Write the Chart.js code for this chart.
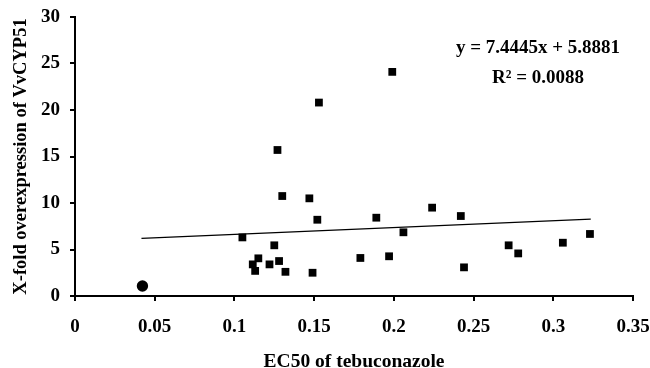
<!DOCTYPE html>
<html>
<head>
<meta charset="utf-8">
<script src="https://cdn.jsdelivr.net/npm/chart.js@4"></script>
<style>
  html, body { margin: 0; padding: 0; background: #fff; }
  #chart { display: block; }
</style>
</head>
<body>
<canvas id="chart" width="650" height="368"></canvas>
<script>
// isolates (squares)
const ec50 = [0.153, 0.127, 0.130, 0.147, 0.199, 0.152, 0.105, 0.125, 0.115, 0.1115,
              0.113, 0.122, 0.128, 0.132, 0.149, 0.179, 0.189, 0.197, 0.206, 0.224,
              0.242, 0.244, 0.272, 0.278, 0.306, 0.323];
const foldExpr = [20.8, 15.7, 10.75, 10.5, 24.1, 8.2, 6.3, 5.45, 4.05, 3.4,
                  2.7, 3.4, 3.76, 2.6, 2.5, 4.09, 8.42, 4.27, 6.85, 9.5,
                  8.6, 3.08, 5.45, 4.58, 5.73, 6.67];
// reference (circle)
const refEc50 = [0.0423];
const refExpr = [1.07];
// trend line ends
const trendX = [0.0417, 0.3235];
const trendY = [6.2, 8.27];
const eqLines = ['y = 7.4445x + 5.8881', 'R\u00b2 = 0.0088'];

const font = 'Liberation Serif, Times New Roman, serif';

const eqPlugin = {
    id: 'eq',
    afterDraw(chart) {
        const ctx = chart.ctx;
        ctx.save();
        ctx.fillStyle = '#000';
        ctx.font = 'bold 19px ' + font;
        ctx.textAlign = 'center';
        ctx.textBaseline = 'middle';
        ctx.fillText(eqLines[0], 538, 48);
        ctx.fillText(eqLines[1], 538, 78);
        ctx.restore();
    }
};

new Chart(document.getElementById('chart'), {
    type: 'scatter',
    data: {
        datasets: [
            {
                data: trendX.map((x, i) => ({ x: x, y: trendY[i] })),
                type: 'line',
                borderColor: '#000',
                borderWidth: 1.3,
                pointRadius: 0,
                fill: false
            },
            {
                data: ec50.map((x, i) => ({ x: x, y: foldExpr[i] })),
                pointStyle: 'rect',
                pointRadius: 5.5,
                backgroundColor: '#000',
                borderColor: '#000',
                borderWidth: 0
            },
            {
                data: refEc50.map((x, i) => ({ x: x, y: refExpr[i] })),
                pointStyle: 'circle',
                pointRadius: 5.7,
                backgroundColor: '#000',
                borderColor: '#000',
                borderWidth: 0
            }
        ]
    },
    options: {
        responsive: false,
        animation: false,
        layout: { padding: { top: 17, right: 17, left: 0, bottom: 0 } },
        plugins: { legend: { display: false }, tooltip: { enabled: false } },
        scales: {
            x: {
                type: 'linear',
                min: 0, max: 0.35,
                border: { display: true, color: '#000', width: 2 },
                grid: { drawOnChartArea: false, drawTicks: true, tickLength: 5, color: '#000', lineWidth: 2 },
                ticks: {
                    stepSize: 0.05, color: '#000', padding: 15,
                    font: { family: font, size: 19, weight: 'bold' },
                    callback: v => String(+v.toFixed(2))
                },
                title: { display: true, text: 'EC50 of tebuconazole', color: '#000', font: { family: font, size: 19.5, weight: 'bold', lineHeight: 0.6 }, padding: { top: 0, bottom: 0 } },
                afterFit(scale) {
                    scale.height = 72;
                    scale.paddingLeft = 0;
                    scale.paddingRight = 0;
                }
            },
            y: {
                min: 0, max: 30,
                border: { display: true, color: '#000', width: 2 },
                grid: { drawOnChartArea: false, drawTicks: true, tickLength: 5, color: '#000', lineWidth: 2 },
                ticks: { stepSize: 5, color: '#000', font: { family: font, size: 19, weight: 'bold' }, padding: 10 },
                title: { display: true, text: 'X-fold overexpression of VvCYP51', color: '#000', font: { family: font, size: 18.5, weight: 'bold' }, padding: { top: 10, bottom: 0 } },
                afterFit(scale) {
                    scale.width = 75;
                    scale.paddingTop = 0;
                    scale.paddingBottom = 0;
                }
            }
        }
    },
    plugins: [eqPlugin]
});
</script>
</body>
</html>
